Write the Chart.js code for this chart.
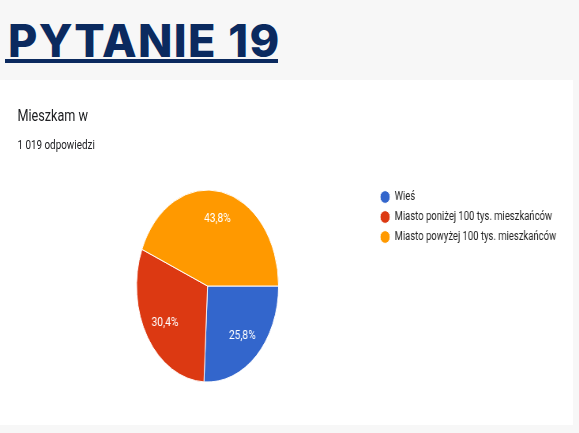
<!DOCTYPE html>
<html>
<head>
<meta charset="utf-8">
<script src="https://cdn.jsdelivr.net/npm/chart.js@4.4.1/dist/chart.umd.min.js"></script>
<style>
  html, body { margin:0; padding:0; }
  body { width:579px; height:433px; background:#f7f7f7; position:relative; overflow:hidden; font-family:Roboto, "Noto Sans", sans-serif; }
  #title { position:absolute; left:5px; top:22px; margin:0; padding:0 0 0 3px; width:270px;
           font-family:Inter, "Open Sans", sans-serif; font-weight:800; font-size:45px; line-height:37px;
           letter-spacing:1.4px; color:#0b2a5f; border-bottom:4px solid #0b2a5f; white-space:nowrap; }
  #card { position:absolute; left:0; top:80px; width:573px; height:345px; background:#fff; overflow:hidden; }
  #inner { position:absolute; left:0; top:0; width:725px; height:345px; transform:scaleX(0.79); transform-origin:0 0; }
  #q { position:absolute; left:22px; top:26px; font-size:16px; line-height:20px; color:#202124; white-space:nowrap; }
  #cnt { position:absolute; left:22px; top:57px; font-size:12.5px; line-height:16px; color:#202124; white-space:nowrap; }
  #wrap { position:absolute; left:0; top:103px; width:725px; height:206px; }
</style>
</head>
<body>
<h1 id="title">PYTANIE 19</h1>
<div id="card">
  <div id="inner">
    <div id="q">Mieszkam w</div>
    <div id="cnt">1 019 odpowiedzi</div>
    <div id="wrap"><canvas id="pie"></canvas></div>
  </div>
</div>
<script>
  var categories = ['Wieś', 'Miasto poniżej 100 tys. mieszkańców', 'Miasto powyżej 100 tys. mieszkańców'];
  var answers = [263, 310, 446];
  var colors = ['#3366cc', '#dc3912', '#ff9900'];

  var SQUEEZE = 0.936; // the pie in the picture is a bit narrower than tall

  function pct(v){
    var total = 0;
    for (var i=0;i<answers.length;i++) total += answers[i];
    return (Math.round(v/total*1000)/10).toFixed(1).replace('.', ',') + '%';
  }

  var squeezePie = {
    id: 'squeezePie',
    beforeDatasetsDraw: function(chart){
      var a = chart.getDatasetMeta(0).data[0];
      var ctx = chart.ctx;
      ctx.save();
      ctx.translate(a.x, 0);
      ctx.scale(SQUEEZE, 1);
      ctx.translate(-a.x, 0);
    },
    afterDatasetsDraw: function(chart){
      var ctx = chart.ctx;
      ctx.restore();
      var arcs = chart.getDatasetMeta(0).data;
      ctx.save();
      ctx.fillStyle = '#fff';
      ctx.font = '13px Roboto';
      ctx.textAlign = 'center';
      ctx.textBaseline = 'middle';
      for (var i=0;i<arcs.length;i++){
        var p = arcs[i].getProps(['x','y','startAngle','endAngle','outerRadius'], true);
        var mid = (p.startAngle + p.endAngle)/2;
        var r = p.outerRadius*0.71;
        ctx.fillText(pct(answers[i]), p.x + Math.cos(mid)*r*SQUEEZE, p.y + Math.sin(mid)*r);
      }
      ctx.restore();
    }
  };

  new Chart(document.getElementById('pie'), {
    type: 'pie',
    data: {
      labels: categories,
      datasets: [{ data: answers, backgroundColor: colors, borderColor:'#fff', borderWidth:1 }]
    },
    options: {
      responsive: true,
      maintainAspectRatio: false,
      animation: false,
      rotation: 90,
      radius: 96,
      layout: { padding: { left: 52, right: 11, top: 0, bottom: 0 } },
      plugins: {
        tooltip: { enabled: false },
        legend: {
          position: 'right',
          align: 'start',
          labels: {
            usePointStyle: true,
            pointStyle: 'circle',
            boxWidth: 12,
            boxHeight: 9,
            padding: 8,
            color: '#222',
            font: { family: 'Roboto', size: 12 }
          }
        }
      }
    },
    plugins: [squeezePie]
  });
</script>
</body>
</html>
